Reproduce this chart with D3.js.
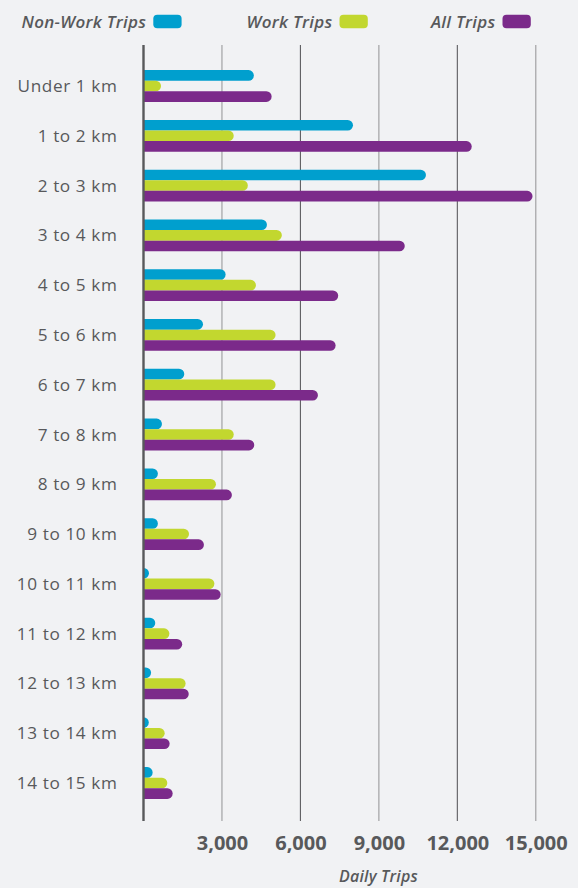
<!DOCTYPE html>
<html>
<head>
<meta charset="utf-8">
<script src="https://cdn.jsdelivr.net/npm/d3@7"></script>
<style>
  html, body { margin: 0; padding: 0; background: #f1f2f4; }
  svg { display: block; }
  text { font-family: "Open Sans", "Noto Sans", sans-serif; fill: #58595b; }
</style>
</head>
<body>
<svg id="chart" width="578" height="888"></svg>
<script>
const categories = ["Under 1 km","1 to 2 km","2 to 3 km","3 to 4 km","4 to 5 km","5 to 6 km","6 to 7 km","7 to 8 km","8 to 9 km","9 to 10 km","10 to 11 km","11 to 12 km","12 to 13 km","13 to 14 km","14 to 15 km"];
const nonWork = [4220, 8010, 10800, 4720, 3140, 2275, 1560, 705, 550, 550, 210, 450, 290, 160, 350];
const work    = [670, 3450, 3990, 5290, 4300, 5050, 5050, 3450, 2770, 1740, 2710, 990, 1610, 810, 910];
const allTrips= [4900, 12550, 14875, 9990, 7445, 7345, 6670, 4235, 3380, 2310, 2950, 1480, 1730, 1000, 1115];
const seriesNames = ["Non-Work Trips", "Work Trips", "All Trips"];
const seriesColors = ["#009fce", "#c2d72f", "#7b2a8a"];
const tickValues = [3000, 6000, 9000, 12000, 15000];
const axisTitle = "Daily Trips";

const svg = d3.select("#chart");
const x = d3.scaleLinear().domain([0, 15000]).range([143.5, 535.8]);
const y = d3.scalePoint().domain(categories).range([86, 783]);
const barH = 10.6;
const series = [nonWork, work, allTrips];

// grid lines
const gridTop = 45, gridBottom = 821;
svg.append("g").selectAll("line").data(tickValues).join("line")
  .attr("x1", d => x(d)).attr("x2", d => x(d))
  .attr("y1", gridTop).attr("y2", gridBottom)
  .attr("stroke", (d, i) => i % 2 === 0 ? "#9a9a9c" : "#5d5d60")
  .attr("stroke-width", 1.1);

// tick labels via axis
const axis = d3.axisBottom(x).tickValues(tickValues).tickSize(0).tickPadding(0)
  .tickFormat(d3.format(","));
const ag = svg.append("g").attr("transform", `translate(0, 850)`).call(axis);
ag.select(".domain").remove();
ag.selectAll("text").attr("y", 0).attr("dy", 0)
  .attr("font-size", 20).attr("font-weight", 700)
  .style("fill", "#58595b")
  .style("font-family", '"Open Sans", sans-serif');

// bars
function barPath(v, y0) {
  const x0 = x(0), x1 = x(v), r = barH / 2;
  const xe = Math.max(x0, x1 - r);
  return `M${x0},${y0}H${xe}A${r},${r} 0 0 1 ${xe},${y0 + barH}H${x0}Z`;
}
series.forEach((vals, si) => {
  svg.append("g").selectAll("path").data(categories).join("path")
    .attr("d", (c, i) => barPath(vals[i], y(c) - 1.5 * barH + si * barH))
    .attr("fill", seriesColors[si]);
});

// zero axis line
svg.append("line").attr("x1", x(0)).attr("x2", x(0))
  .attr("y1", gridTop).attr("y2", gridBottom)
  .attr("stroke", "#58595b").attr("stroke-width", 2.4);

// category labels
const yAxis = d3.axisLeft(y).tickSize(0).tickPadding(0);
const yg = svg.append("g").attr("transform", `translate(117.5, 0)`).call(yAxis);
yg.select(".domain").remove();
yg.selectAll("text").attr("font-size", 17.2).style("fill", "#58595b")
  .style("letter-spacing", "0.6px")
  .style("font-family", '"Open Sans", sans-serif');

// legend
const legendX = [153.3, 339.5, 502.5];
seriesNames.forEach((name, i) => {
  svg.append("text").attr("x", legendX[i] - 7).attr("y", 28.3)
    .attr("text-anchor", "end").attr("font-size", 17)
    .style("letter-spacing", "0.3px")
    .attr("font-style", "italic").attr("font-weight", 600).text(name);
  svg.append("rect").attr("x", legendX[i]).attr("y", 14.7)
    .attr("width", 28.3).attr("height", 13.6).attr("rx", 4)
    .attr("fill", seriesColors[i]);
});

// axis title
svg.append("text").attr("x", 378.5).attr("y", 882).attr("text-anchor", "middle")
  .attr("font-size", 16).attr("font-style", "italic").attr("font-weight", 600)
  .style("letter-spacing", "0.2px")
  .text(axisTitle);
</script>
</body>
</html>
